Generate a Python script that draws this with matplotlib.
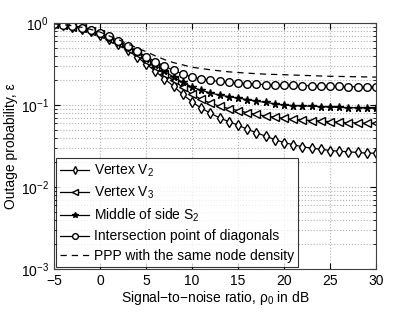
import numpy as np
import matplotlib.pyplot as plt

plt.rcParams['font.family'] = ['Liberation Sans', 'DejaVu Sans']
plt.rcParams['mathtext.fontset'] = 'custom'
plt.rcParams['mathtext.rm'] = 'Liberation Sans'
plt.rcParams['mathtext.it'] = 'Liberation Sans:italic'

snr = np.arange(-5, 31)

vertex_v2 = [0.97, 0.94, 0.90, 0.86, 0.80, 0.72, 0.64, 0.55, 0.47, 0.39,
             0.32, 0.26, 0.21, 0.17, 0.135, 0.11, 0.092, 0.080, 0.070, 0.063,
             0.057, 0.051, 0.046, 0.042, 0.038, 0.035, 0.033, 0.031, 0.030, 0.029,
             0.028, 0.0275, 0.027, 0.0265, 0.026, 0.026]
vertex_v3 = [0.97, 0.95, 0.91, 0.87, 0.81, 0.73, 0.65, 0.57, 0.49, 0.42,
             0.35, 0.29, 0.24, 0.20, 0.165, 0.135, 0.118, 0.106, 0.097, 0.091,
             0.086, 0.081, 0.077, 0.074, 0.071, 0.069, 0.067, 0.066, 0.065, 0.064,
             0.063, 0.062, 0.061, 0.061, 0.060, 0.060]
middle_s2 = [0.97, 0.95, 0.92, 0.87, 0.82, 0.74, 0.66, 0.58, 0.51, 0.44,
             0.37, 0.31, 0.26, 0.22, 0.19, 0.166, 0.152, 0.141, 0.133, 0.127,
             0.122, 0.117, 0.112, 0.108, 0.104, 0.100, 0.099, 0.098, 0.097, 0.096,
             0.095, 0.094, 0.093, 0.093, 0.092, 0.092]
diag_point = [0.97, 0.95, 0.92, 0.88, 0.83, 0.76, 0.69, 0.61, 0.53, 0.46,
              0.39, 0.34, 0.30, 0.265, 0.24, 0.22, 0.21, 0.20, 0.195, 0.19,
              0.186, 0.183, 0.180, 0.178, 0.177, 0.176, 0.174, 0.173, 0.172, 0.171,
              0.170, 0.169, 0.168, 0.167, 0.167, 0.166]
ppp = [0.98, 0.96, 0.93, 0.89, 0.84, 0.78, 0.70, 0.63, 0.56, 0.50,
       0.45, 0.40, 0.36, 0.33, 0.31, 0.29, 0.28, 0.27, 0.262, 0.255,
       0.25, 0.246, 0.242, 0.239, 0.237, 0.235, 0.233, 0.231, 0.229, 0.227,
       0.225, 0.224, 0.223, 0.222, 0.221, 0.22]

labels = ['Vertex V$_2$', 'Vertex V$_3$', 'Middle of side S$_2$',
          'Intersection point of diagonals', 'PPP with the same node density']

fig = plt.figure(figsize=(4.15, 3.13), dpi=100)
ax = fig.add_axes([0.130, 0.140, 0.776, 0.786])

ax.semilogy(snr, vertex_v2, 'k-', marker='d', mfc='white', ms=5, lw=0.9, label=labels[0])
ax.semilogy(snr, vertex_v3, 'k-', marker='<', mfc='white', ms=5.5, lw=0.9, label=labels[1])
ax.semilogy(snr, middle_s2, 'k-', marker='*', mfc='black', ms=5.5, lw=0.9, label=labels[2])
ax.semilogy(snr, diag_point, 'k-', marker='o', mfc='white', ms=5.5, lw=0.9, label=labels[3])
ax.semilogy(snr, ppp, 'k--', lw=0.9, dashes=(5, 4), label=labels[4])

ax.set_xlim(-5, 30)
ax.set_ylim(1e-3, 1)
ax.set_xticks(np.arange(-5, 31, 5))
ax.set_xticklabels(['\u22125', '0', '5', '10', '15', '20', '25', '30'])

ax.grid(True, which='major', color='#b0b0b0', linestyle=':', lw=0.8)
ax.grid(True, which='minor', axis='y', color='#b0b0b0', linestyle=':', lw=0.8)
ax.tick_params(which='both', direction='in', top=True, right=True, labelsize=10)
ax.tick_params(which='major', length=4)
ax.tick_params(which='minor', length=2)
for s in ax.spines.values():
    s.set_color('#404040')
    s.set_linewidth(0.8)

ax.set_xlabel('Signal\u2212to\u2212noise ratio, \u03c1$_0$ in dB', fontsize=10, labelpad=1)
ax.set_ylabel('Outage probability, \u03b5', fontsize=10, labelpad=2)

leg = ax.legend(loc='lower left', fontsize=10, frameon=True, fancybox=False,
                edgecolor='black', handlelength=2.1, borderaxespad=0.15,
                labelspacing=0.4, borderpad=0.3, handletextpad=0.3,
                markerscale=0.75)
leg.get_frame().set_linewidth(0.8)

fig.savefig('out.png', dpi=100)
